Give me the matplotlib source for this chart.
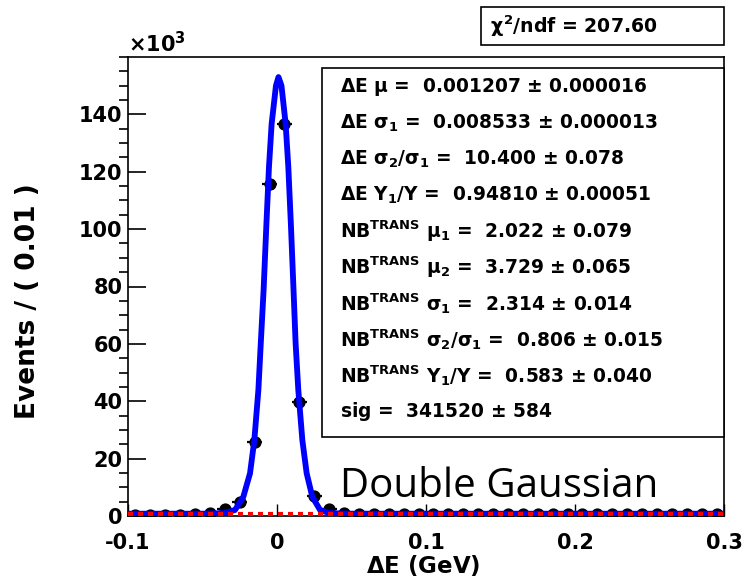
import matplotlib
matplotlib.use("Agg")
import matplotlib.pyplot as plt
from matplotlib.patches import Rectangle

plt.rcParams["font.family"] = ["DejaVu Sans"]
plt.rcParams["font.weight"] = "bold"
plt.rcParams["mathtext.fontset"] = "custom"
plt.rcParams["mathtext.rm"] = "DejaVu Sans:bold"
plt.rcParams["mathtext.it"] = "DejaVu Sans"
plt.rcParams["mathtext.bf"] = "DejaVu Sans:bold"

# data points, 0.01 GeV bins, Events in units of 10^3
bin_centers = [-0.095, -0.085, -0.075, -0.065, -0.055, -0.045, -0.035, -0.025,
               -0.015, -0.005, 0.005, 0.015, 0.025, 0.035, 0.045, 0.055,
               0.065, 0.075, 0.085, 0.095, 0.105, 0.115, 0.125, 0.135,
               0.145, 0.155, 0.165, 0.175, 0.185, 0.195, 0.205, 0.215,
               0.225, 0.235, 0.245, 0.255, 0.265, 0.275, 0.285, 0.295]
counts = [0.3, 0.3, 0.3, 0.4, 0.8, 0.9, 2.3, 5.0,
          25.9, 115.6, 136.5, 39.8, 7.0, 2.4, 1.0, 0.7,
          0.6, 0.6, 0.6, 0.6, 0.6, 0.6, 0.6, 0.6,
          0.6, 0.6, 0.6, 0.6, 0.6, 0.6, 0.6, 0.6,
          0.6, 0.6, 0.6, 0.6, 0.6, 0.6, 0.6, 0.6]
bin_half = 0.005

# fitted curve
fit_x = [-0.10, -0.05, -0.035, -0.0282, -0.0226, -0.0181, -0.0152, -0.0125,
         -0.0109, -0.0090, -0.0072, -0.0054, -0.0036, -0.0007, 0.0010, 0.0030,
         0.0058, 0.0076, 0.0094, 0.0111, 0.0125, 0.0143, 0.0170, 0.0199,
         0.0237, 0.0289, 0.035, 0.05, 0.1, 0.2, 0.3]
fit_y = [0.8, 0.8, 1.0, 2.1, 6.7, 14.9, 26.5, 43.9,
         60.1, 78.7, 100.7, 121.6, 136.7, 150.0, 153.0, 150.0,
         136.7, 121.6, 100.7, 78.7, 60.1, 43.9, 26.5, 14.9,
         6.7, 2.1, 1.0, 0.8, 0.8, 0.8, 0.8]

# background component
bkg_x = [-0.1, 0.3]
bkg_y = [0.8, 0.8]

fit_lines = [
    r"$\Delta$E $\mu$ =  0.001207 $\pm$ 0.000016",
    r"$\Delta$E $\sigma_1$ =  0.008533 $\pm$ 0.000013",
    r"$\Delta$E $\sigma_2/\sigma_1$ =  10.400 $\pm$ 0.078",
    r"$\Delta$E Y$_1$/Y =  0.94810 $\pm$ 0.00051",
    r"NB$^{\rm TRANS}$ $\mu_1$ =  2.022 $\pm$ 0.079",
    r"NB$^{\rm TRANS}$ $\mu_2$ =  3.729 $\pm$ 0.065",
    r"NB$^{\rm TRANS}$ $\sigma_1$ =  2.314 $\pm$ 0.014",
    r"NB$^{\rm TRANS}$ $\sigma_2/\sigma_1$ =  0.806 $\pm$ 0.015",
    r"NB$^{\rm TRANS}$ Y$_1$/Y =  0.583 $\pm$ 0.040",
    r"sig =  341520 $\pm$ 584",
]
chi2_text = r"$\chi^2$/ndf = 207.60"

W, H = 744, 587
fig = plt.figure(figsize=(W / 100, H / 100), dpi=100)
ax = fig.add_axes([128 / W, (H - 516) / H, 596 / W, 459 / H])

ax.errorbar(bin_centers, counts, xerr=bin_half, fmt="o", color="black",
            ms=7.8, elinewidth=1.6, capsize=0, zorder=2)
ax.plot(fit_x, fit_y, color="#0000ff", lw=4.2, zorder=3)
ax.plot(bkg_x, bkg_y, color="#ff0000", lw=3.0, ls=(0, (1.2, 1.2)), zorder=4)

ax.set_xlim(-0.1, 0.3)
ax.set_ylim(0, 160)
ax.set_xticks([-0.1, 0, 0.1, 0.2, 0.3])
ax.set_xticklabels(["-0.1", "0", "0.1", "0.2", "0.3"])
ax.set_yticks([0, 20, 40, 60, 80, 100, 120, 140])
ax.set_yticks(range(0, 161, 5), minor=True)
ax.tick_params(axis="both", direction="in", labelsize=15)
ax.tick_params(axis="y", which="major", length=13, width=1.2, pad=4)
ax.tick_params(axis="y", which="minor", length=6.5, width=1.2)
ax.tick_params(axis="x", which="major", length=9, width=1.0, pad=12)
for s in ax.spines.values():
    s.set_linewidth(1.2)

fig.text(423 / W, 1 - 566 / H, r"$\Delta$E (GeV)", fontsize=16.5,
         ha="center", va="center")
fig.text(28 / W, 1 - 301 / H, "Events / ( 0.01 )", fontsize=19,
         rotation=90, ha="center", va="center")
fig.text(128 / W, (H - 52) / H, r"$\times$10$^3$", fontsize=15)

# parameter box
bx0 = (322 - 128) / 596
by0 = (516 - 437) / 459
by1 = (516 - 68) / 459
ax.add_patch(Rectangle((bx0, by0), 1 - bx0, by1 - by0, transform=ax.transAxes,
                       facecolor="white", edgecolor="black", lw=1.2,
                       zorder=5, clip_on=False))
for i, line in enumerate(fit_lines):
    ypix = 87 + 36.1 * i
    ax.text((340 - 128) / 596, (516 - ypix) / 459, line, transform=ax.transAxes,
            fontsize=13.4, va="center", ha="left", zorder=6)

# chi2 box
fig.patches.append(Rectangle((481 / W, (H - 45) / H), 243 / W, 38 / H,
                             transform=fig.transFigure, facecolor="white",
                             edgecolor="black", lw=1.2))
fig.text(490 / W, (H - 26) / H, chi2_text, fontsize=13.6, va="center", ha="left")

# slide annotation
ax.text((340 - 128) / 596, (516 - 497) / 459, "Double Gaussian",
        transform=ax.transAxes, fontsize=29, fontweight="normal",
        family="Open Sans", ha="left", va="baseline", zorder=6)

fig.savefig("out.png", dpi=100)
